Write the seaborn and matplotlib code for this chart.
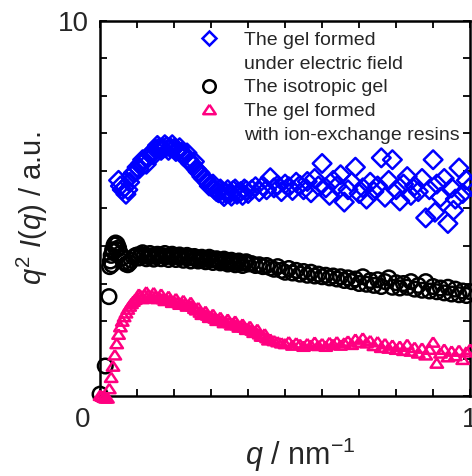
import numpy as np
import pandas as pd
import matplotlib
matplotlib.use("Agg")
import matplotlib.pyplot as plt
import matplotlib.transforms as mtransforms
from matplotlib.lines import Line2D
import seaborn as sns

# dados
q_field = [0.05, 0.06, 0.07, 0.08, 0.09, 0.10, 0.11, 0.12, 0.13, 0.14, 0.15, 0.16, 0.17, 0.18, 0.19,
           0.20, 0.21, 0.22, 0.23, 0.24, 0.25, 0.26, 0.27, 0.28, 0.29, 0.30, 0.31, 0.32, 0.33, 0.34,
           0.35, 0.36, 0.37, 0.38, 0.39, 0.40, 0.41, 0.42, 0.43, 0.44, 0.45, 0.46, 0.47, 0.48, 0.49,
           0.50, 0.51, 0.52, 0.53, 0.54, 0.55, 0.56, 0.57, 0.58, 0.59, 0.60, 0.61, 0.62, 0.63, 0.64,
           0.65, 0.66, 0.67, 0.68, 0.69, 0.70, 0.71, 0.72, 0.73, 0.74, 0.75, 0.76, 0.77, 0.78, 0.79,
           0.80, 0.81, 0.82, 0.83, 0.84, 0.85, 0.86, 0.87, 0.88, 0.89, 0.90, 0.905, 0.91, 0.92, 0.93,
           0.94, 0.95, 0.955, 0.96, 0.97, 0.98, 0.99, 1.00,
           0.055, 0.065, 0.075, 0.085, 0.095, 0.105, 0.115, 0.125, 0.135, 0.145, 0.155, 0.165,
           0.175, 0.185, 0.195, 0.205, 0.215, 0.225, 0.235, 0.245, 0.255, 0.265, 0.275, 0.285,
           0.295, 0.305, 0.315, 0.325, 0.335, 0.345, 0.355, 0.365, 0.375, 0.385, 0.395]
i_field = [5.75, 5.5, 5.38, 5.7, 5.95, 6.1, 6.2, 6.28, 6.35, 6.5, 6.58, 6.62, 6.6, 6.65, 6.62,
           6.6, 6.55, 6.5, 6.42, 6.3, 6.18, 6.05, 5.95, 5.8, 5.7, 5.6, 5.5, 5.42, 5.38, 5.42,
           5.4, 5.48, 5.38, 5.45, 5.52, 5.4, 5.5, 5.58, 5.45, 5.6, 5.5, 5.82, 5.55, 5.62, 5.45,
           5.65, 5.58, 5.48, 5.7, 5.62, 5.5, 5.72, 5.42, 5.8, 5.6, 6.2, 5.55, 5.35, 5.75, 5.6,
           5.9, 5.17, 5.5, 5.7, 6.1, 5.4, 5.55, 5.25, 5.7, 5.45, 5.6, 6.35, 5.3, 5.75, 6.3,
           5.5, 5.2, 5.65, 5.85, 5.35, 5.6, 5.45, 5.8, 4.75, 5.5, 6.3, 4.9, 5.65, 5.3, 5.8,
           4.6, 5.55, 4.95, 5.25, 6.08, 5.4, 5.75, 5.57,
           5.6, 5.55, 5.5, 5.88, 5.98, 6.05, 6.3, 6.18, 6.45, 6.42, 6.68, 6.55,
           6.7, 6.55, 6.7, 6.52, 6.62, 6.4, 6.48, 6.2, 6.25, 5.98, 5.85, 5.78, 5.6,
           5.65, 5.45, 5.52, 5.32, 5.5, 5.33, 5.52, 5.42, 5.35, 5.48]

q_iso = [0.0, 0.014, 0.024, 0.026, 0.028, 0.03, 0.034, 0.038, 0.042, 0.046, 0.05, 0.055, 0.06, 0.065,
         0.07, 0.075, 0.08, 0.085, 0.09, 0.095, 0.10, 0.11, 0.12, 0.13, 0.14, 0.15, 0.16, 0.17, 0.18,
         0.19, 0.20, 0.21, 0.22, 0.23, 0.24, 0.25, 0.26, 0.27, 0.28, 0.29, 0.30, 0.31, 0.32, 0.33,
         0.34, 0.35, 0.36, 0.37, 0.38, 0.39, 0.40, 0.41, 0.42, 0.43, 0.44, 0.45, 0.46, 0.47, 0.48,
         0.49, 0.50, 0.51, 0.52, 0.53, 0.54, 0.55, 0.56, 0.57, 0.58, 0.59, 0.60, 0.61, 0.62, 0.63,
         0.64, 0.65, 0.66, 0.67, 0.68, 0.69, 0.70, 0.71, 0.72, 0.73, 0.74, 0.75, 0.76, 0.77, 0.78,
         0.79, 0.80, 0.81, 0.82, 0.83, 0.84, 0.85, 0.86, 0.87, 0.88, 0.89, 0.90, 0.91, 0.92, 0.93,
         0.94, 0.95, 0.96, 0.97, 0.98, 0.99, 1.00,
         0.032, 0.036, 0.044, 0.105, 0.115, 0.125, 0.135, 0.145, 0.155, 0.165, 0.175, 0.185,
         0.195, 0.205, 0.215, 0.225, 0.235, 0.245, 0.255, 0.265, 0.275, 0.285, 0.295, 0.305,
         0.315, 0.325, 0.335, 0.345, 0.355, 0.365, 0.375, 0.385, 0.395]
i_iso = [0.05, 0.8, 2.65, 3.45, 3.6, 3.75, 3.9, 4.03, 4.08, 4.05, 3.95, 3.8, 3.68, 3.58,
         3.52, 3.5, 3.55, 3.62, 3.7, 3.74, 3.76, 3.78, 3.74, 3.72, 3.74, 3.72, 3.76, 3.74, 3.72,
         3.73, 3.72, 3.73, 3.7, 3.71, 3.68, 3.7, 3.66, 3.68, 3.64, 3.66, 3.63, 3.64, 3.6, 3.62,
         3.58, 3.6, 3.56, 3.57, 3.54, 3.56, 3.52, 3.53, 3.48, 3.5, 3.45, 3.48, 3.42, 3.38, 3.45,
         3.35, 3.3, 3.4, 3.28, 3.35, 3.25, 3.32, 3.22, 3.3, 3.2, 3.25, 3.18, 3.22, 3.15, 3.2,
         3.12, 3.18, 3.08, 3.15, 3.05, 3.12, 3.0, 3.18, 2.98, 3.08, 2.95, 3.1, 2.92, 3.05, 3.15,
         2.9, 3.02, 2.88, 3.0, 2.9, 3.05, 2.85, 2.95, 2.82, 3.05, 2.8, 2.92, 2.78, 2.88, 2.75,
         2.9, 2.72, 2.85, 2.7, 2.8, 2.68, 2.78,
         3.5, 3.85, 3.9, 3.68, 3.82, 3.66, 3.8, 3.65, 3.78, 3.66, 3.8, 3.64,
         3.78, 3.64, 3.76, 3.62, 3.75, 3.6, 3.72, 3.6, 3.7, 3.58, 3.7, 3.56,
         3.66, 3.55, 3.65, 3.52, 3.62, 3.5, 3.6, 3.48, 3.58]

q_resin = [0.0, 0.005, 0.01, 0.015, 0.02, 0.025, 0.03, 0.035, 0.04, 0.045, 0.05, 0.055, 0.06, 0.065,
           0.07, 0.075, 0.08, 0.085, 0.09, 0.095, 0.10, 0.11, 0.12, 0.13, 0.14, 0.15, 0.16, 0.17,
           0.18, 0.19, 0.20, 0.21, 0.22, 0.23, 0.24, 0.25, 0.26, 0.27, 0.28, 0.29, 0.30, 0.31, 0.32,
           0.33, 0.34, 0.35, 0.36, 0.37, 0.38, 0.39, 0.40, 0.41, 0.42, 0.43, 0.44, 0.45, 0.46, 0.47,
           0.48, 0.49, 0.50, 0.51, 0.52, 0.53, 0.54, 0.55, 0.56, 0.57, 0.58, 0.59, 0.60, 0.61, 0.62,
           0.63, 0.64, 0.65, 0.66, 0.67, 0.68, 0.69, 0.70, 0.71, 0.72, 0.73, 0.74, 0.75, 0.76, 0.77,
           0.78, 0.79, 0.80, 0.81, 0.82, 0.83, 0.84, 0.85, 0.86, 0.87, 0.88, 0.89, 0.90, 0.91, 0.92,
           0.93, 0.94, 0.95, 0.96, 0.97, 0.98, 0.99, 1.00,
           0.105, 0.115, 0.125, 0.135, 0.145, 0.155, 0.165, 0.175, 0.185, 0.195, 0.205, 0.215,
           0.225, 0.235, 0.245, 0.255, 0.265, 0.275, 0.285, 0.295, 0.305, 0.315, 0.325, 0.335,
           0.345, 0.355, 0.365, 0.375, 0.385, 0.395, 0.405, 0.415, 0.425, 0.435, 0.445, 0.455]
i_resin = [0.02, 0.0, -0.03, -0.05, -0.05, 0.2, 0.5, 0.8, 1.1, 1.4, 1.65, 1.85, 2.0, 2.12,
           2.22, 2.32, 2.4, 2.47, 2.53, 2.58, 2.62, 2.68, 2.7, 2.7, 2.68, 2.66, 2.63, 2.6,
           2.58, 2.56, 2.52, 2.5, 2.48, 2.46, 2.43, 2.4, 2.3, 2.24, 2.2, 2.16, 2.12, 2.08, 2.05,
           2.02, 1.98, 1.96, 1.94, 1.9, 1.87, 1.84, 1.8, 1.76, 1.72, 1.66, 1.6, 1.56, 1.52, 1.48,
           1.45, 1.42, 1.4, 1.45, 1.36, 1.42, 1.38, 1.33, 1.4, 1.36, 1.44, 1.35, 1.4, 1.33, 1.43,
           1.38, 1.45, 1.36, 1.42, 1.47, 1.38, 1.52, 1.44, 1.55, 1.42, 1.48, 1.35, 1.45, 1.3, 1.4,
           1.28, 1.36, 1.25, 1.33, 1.22, 1.38, 1.2, 1.3, 1.15, 1.28, 1.1, 1.25, 1.44, 0.88, 1.15,
           1.25, 1.05, 1.2, 1.08, 1.22, 0.98, 1.18, 1.25,
           2.72, 2.6, 2.78, 2.62, 2.76, 2.6, 2.72, 2.55, 2.66, 2.5, 2.6, 2.45,
           2.55, 2.4, 2.5, 2.34, 2.36, 2.18, 2.26, 2.1, 2.18, 2.02, 2.1, 1.96,
           2.05, 1.9, 2.0, 1.84, 1.92, 1.78, 1.86, 1.7, 1.78, 1.6, 1.66, 1.5]

labels = ["The gel formed", "under electric field", "The isotropic gel",
          "The gel formed", "with ion-exchange resins"]
x_ticklabels = ["0", "1"]
y_ticklabels = ["10"]

blue = "#0000ff"
black = "#000000"
pink = "#ff0080"

# triangulo um pouco achatado, como no original
tri = [(0.0, 0.75), (-1.0, -0.75), (1.0, -0.75), (0.0, 0.75)]

sns.set_style("ticks")
plt.rcParams["font.family"] = ["Liberation Sans", "DejaVu Sans"]
plt.rcParams["mathtext.fontset"] = "custom"
plt.rcParams["mathtext.rm"] = "Liberation Sans"
plt.rcParams["mathtext.it"] = "Liberation Sans:italic"

fig = plt.figure(figsize=(4.72, 4.76), dpi=100)
ax = fig.add_axes([0.212, 0.168, 0.784, 0.788])

series = [
    (q_field, i_field, "D", 90, blue),
    (q_iso, i_iso, "o", 110, black),
    (q_resin, i_resin, tri, 80, pink),
]
for qq, ii, mk, s, col in series:
    df = pd.DataFrame({"q": qq, "I": ii})
    sns.scatterplot(data=df, x="q", y="I", marker=mk, s=s, color=col, ax=ax,
                    linewidth=1.8, clip_on=False, legend=False, zorder=3)
    pts = ax.collections[-1]
    pts.set_facecolor("none")
    pts.set_edgecolor(col)

ax.set_xlim(0, 1)
ax.set_ylim(0, 10)
ax.set_xticks(np.arange(0, 1.01, 0.1))
ax.set_yticks(np.arange(0, 10.1, 1))
ax.set_xticklabels([x_ticklabels[0]] + [""] * 9 + [x_ticklabels[1]])
ax.set_yticklabels([""] * 10 + y_ticklabels)
ax.tick_params(direction="in", top=True, right=True, length=5, width=1.3,
               labelsize=20, pad=8, color="black")
for sp in ax.spines.values():
    sp.set_linewidth(1.8)
    sp.set_color("black")

# o "0" da origem fica a esquerda do eixo
lab0 = ax.get_xticklabels()[0]
lab0.set_horizontalalignment("right")
lab0.set_transform(lab0.get_transform() + mtransforms.ScaledTranslation(-10 / 100, 0, fig.dpi_scale_trans))

ax.set_xlabel(r"$q$ / nm$^{-1}$", fontsize=22)
ax.set_ylabel(r"$q^2$ $I$($q$) / a.u.", fontsize=21)
ax.xaxis.set_label_coords(0.54, -0.105)
ax.yaxis.set_label_coords(-0.135, 0.5)

handles = [
    Line2D([], [], ls="none", marker="D", ms=7.5, mfc="none", mec=blue, mew=1.8),
    Line2D([], [], ls="none"),
    Line2D([], [], ls="none", marker="o", ms=9, mfc="none", mec=black, mew=1.8),
    Line2D([], [], ls="none", marker=tri, ms=9, mfc="none", mec=pink, mew=1.8),
    Line2D([], [], ls="none"),
]
ax.legend(handles, labels, loc="upper left", bbox_to_anchor=(0.268, 0.972), frameon=False,
          fontsize=14, handlelength=1.0, handletextpad=1.3, labelspacing=0.31,
          borderpad=0, borderaxespad=0)

fig.savefig("out.png", dpi=100)
